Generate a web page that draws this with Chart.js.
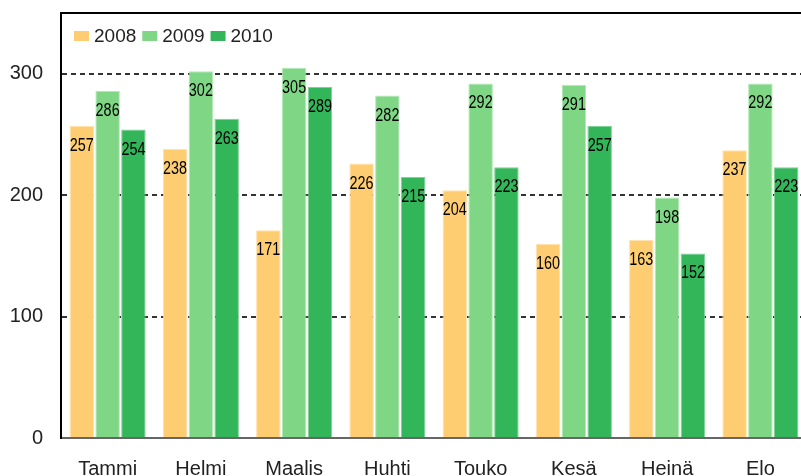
<!DOCTYPE html>
<html>
<head>
<meta charset="utf-8">
<script src="https://cdn.jsdelivr.net/npm/chart.js@4"></script>
<style>
  html, body { margin: 0; padding: 0; background: #fff; overflow: hidden; }
  #wrap { position: absolute; left: 0; top: 0; width: 812px; height: 490px; }
</style>
</head>
<body>
<div id="wrap"><canvas id="chart" width="812" height="490"></canvas></div>
<script>
// months (Finnish short names)
const months = ["Tammi", "Helmi", "Maalis", "Huhti", "Touko", "Kesä", "Heinä", "Elo"];
const years = ["2008", "2009", "2010"];

const values2008 = [257, 238, 171, 226, 204, 160, 163, 237];
const values2009 = [286, 302, 305, 282, 292, 291, 198, 292];
const values2010 = [254, 263, 289, 215, 223, 257, 152, 223];

const yTicks = [0, 100, 200, 300];

const fills = ["#fecd72", "#7fd685", "#33b55a"];
const edges = ["#ffe2ad", "#b3eab5", "#7fd195"];

const series = [values2008, values2009, values2010];

// little plugin : values inside the bars, legend inside the plot, top frame line
const extras = {
  id: "extras",
  afterDatasetsDraw(chart) {
    const ctx = chart.ctx;
    ctx.save();
    ctx.font = '18px "Liberation Sans", Arial, sans-serif';
    ctx.fillStyle = "#000";
    ctx.textAlign = "center";
    ctx.textBaseline = "middle";
    chart.data.datasets.forEach((ds, i) => {
      chart.getDatasetMeta(i).data.forEach((bar, j) => {
        // squeeze the text sideways, the original uses a narrow face
        ctx.save();
        ctx.translate(bar.x, bar.y + 20);
        ctx.scale(0.8, 1);
        ctx.fillText(String(ds.data[j]), 0, 0);
        ctx.restore();
      });
    });
    ctx.restore();
  },
  afterDraw(chart) {
    const { ctx, chartArea } = chart;
    ctx.save();
    // top frame
    ctx.strokeStyle = "#000";
    ctx.lineWidth = 2;
    ctx.beginPath();
    ctx.moveTo(chartArea.left - 1, chartArea.top);
    ctx.lineTo(chartArea.right + 10, chartArea.top);
    ctx.stroke();

    // legend
    ctx.font = '19px "Liberation Sans", Arial, sans-serif';
    ctx.textBaseline = "middle";
    ctx.textAlign = "left";
    let x = chartArea.left + 13;
    const y = chartArea.top + 23;
    chart.data.datasets.forEach((ds) => {
      ctx.fillStyle = ds.backgroundColor;
      ctx.fillRect(x, y - 5, 15, 10);
      ctx.fillStyle = "#222";
      ctx.fillText(ds.label, x + 20, y + 1);
      x += 20 + ctx.measureText(ds.label).width + 6;
    });
    ctx.restore();
  },
};

new Chart(document.getElementById("chart"), {
  type: "bar",
  data: {
    labels: months,
    datasets: years.map((y, i) => ({
      label: y,
      data: series[i],
      backgroundColor: fills[i],
      borderColor: edges[i],
      borderWidth: 1,
      categoryPercentage: 0.83,
      barPercentage: 0.95,
    })),
  },
  options: {
    responsive: false,
    animation: false,
    devicePixelRatio: 1,
    layout: { padding: { top: 13, right: 5, left: 0, bottom: 0 } },
    plugins: {
      legend: { display: false },
      tooltip: { enabled: false },
    },
    scales: {
      x: {
        grid: { display: false, drawTicks: false },
        border: { color: "#666", width: 2 },
        ticks: {
          color: "#222",
          padding: 19,
          font: { family: '"Liberation Sans", Arial, sans-serif', size: 20 },
          maxRotation: 0,
        },
        afterFit(scale) {
          scale.height = 52;
          scale.paddingLeft = 0;
          scale.paddingRight = 0;
        },
      },
      y: {
        min: 0,
        max: 350,
        afterBuildTicks(scale) {
          scale.ticks = yTicks.map((v) => ({ value: v }));
        },
        grid: {
          drawTicks: false,
          color: (c) => (c.tick && c.tick.value > 0 ? "#333" : "rgba(0,0,0,0)"),
          lineWidth: 2,
        },
        border: { color: "#000", width: 2, dash: [5, 4] },
        ticks: {
          color: "#222",
          padding: 18,
          font: { family: '"Liberation Sans", Arial, sans-serif', size: 20 },
        },
        afterFit(scale) {
          scale.width = 61;
          scale.paddingTop = 0;
          scale.paddingBottom = 0;
        },
      },
    },
  },
  plugins: [extras],
});
</script>
</body>
</html>
